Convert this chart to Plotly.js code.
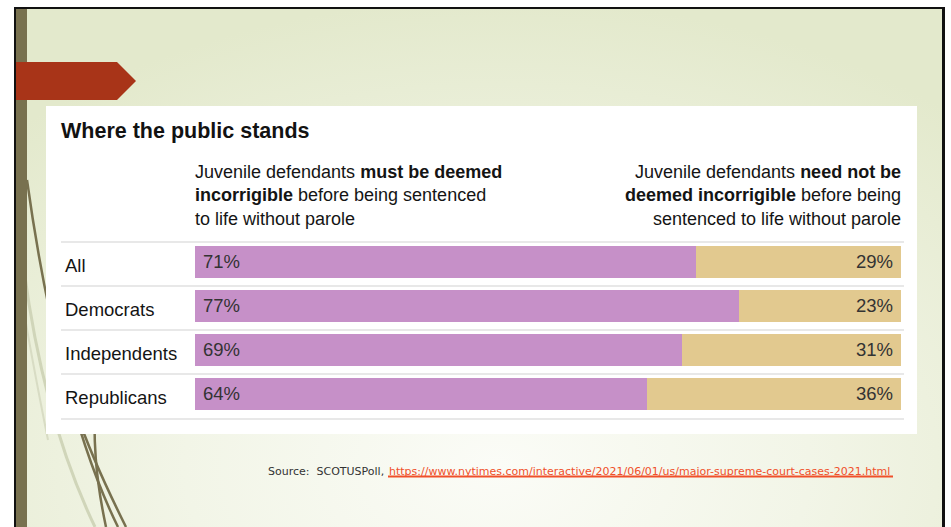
<!DOCTYPE html>
<html>
<head>
<meta charset="utf-8">
<script src="https://cdn.plot.ly/plotly-3.0.1.min.js"></script>
<style>
  html, body { margin:0; padding:0; background:#ffffff; }
  #wrap { position:relative; width:951px; height:527px; overflow:hidden; background:#ffffff; }
  #slidebg { position:absolute; left:16px; top:9px; width:926px; height:518px;
    background: radial-gradient(ellipse 75% 90% at 52% 88%, #fbfcf7 0%, #f2f5e7 45%, #e3e9cc 100%); }
  #chart { position:absolute; left:0; top:0; width:951px; height:527px; }
</style>
</head>
<body>
<div id="wrap">
  <div id="slidebg"></div>
  <div id="chart"></div>
</div>
<script>
// ---- data ----
const categories = ['All', 'Democrats', 'Independents', 'Republicans'];
const mustBeDeemed = [71, 77, 69, 64];
const needNotBeDeemed = [29, 23, 31, 36];
const chartTitle = 'Where the public stands';
const headerLeft = 'Juvenile defendants <b>must be deemed</b><br><b>incorrigible</b> before being sentenced<br>to life without parole';
const headerRight = 'Juvenile defendants <b>need not be</b><br><b>deemed incorrigible</b> before being<br>sentenced to life without parole';
const sourceLabel = 'Source:  SCOTUSPoll,';
const sourceUrl = 'https://www.nytimes.com/interactive/2021/06/01/us/major-supreme-court-cases-2021.html';

// ---- geometry helpers (pixel -> paper) ----
const W = 951, H = 527;
const px = x => x / W;
const py = y => 1 - y / H;

const FONT = '"Liberation Sans", Arial, sans-serif';
const PINK = '#c690c8';
const TAN = '#e2c98f';

const traces = [
  { type:'bar', orientation:'h', y:categories, x:mustBeDeemed, name:'Must be deemed incorrigible',
    marker:{color:PINK, line:{width:0}}, width:0.71, hoverinfo:'x+y' },
  { type:'bar', orientation:'h', y:categories, x:needNotBeDeemed, name:'Need not be deemed incorrigible',
    marker:{color:TAN, line:{width:0}}, width:0.71, hoverinfo:'x+y' }
];

const shapes = [];
// decorative curves (lower left)
function pathPx(pts){
  const p = pts.map(([x,y]) => px(x).toFixed(5) + ',' + py(y).toFixed(5));
  return 'M' + p[0] + ' C' + p[1] + ' ' + p[2] + ' ' + p[3];
}
const curves = [
  {pts:[[24,270],[36,360],[58,450],[95,527]], c:'#d0d5b9', w:3},
  {pts:[[22,300],[32,360],[40,400],[48,440]], c:'#d8dcc4', w:2},
  {pts:[[27,180],[45,310],[75,440],[118,527]], c:'#78714f', w:2.5},
  {pts:[[50,300],[60,380],[85,445],[126,527]], c:'#78714f', w:2.5},
  {pts:[[96,380],[92,440],[96,480],[106,527]], c:'#78714f', w:2.5}
];
curves.forEach(cv => shapes.push({type:'path', xref:'paper', yref:'paper', path:pathPx(cv.pts), line:{color:cv.c, width:cv.w}, layer:'below'}));
// slide frame pieces
shapes.push({type:'rect', xref:'paper', yref:'paper', x0:px(14), x1:px(16), y0:py(527), y1:py(7), fillcolor:'#111', line:{width:0}, layer:'below'});
shapes.push({type:'rect', xref:'paper', yref:'paper', x0:px(14), x1:px(945), y0:py(9), y1:py(7), fillcolor:'#111', line:{width:0}, layer:'below'});
shapes.push({type:'rect', xref:'paper', yref:'paper', x0:px(942), x1:px(945), y0:py(527), y1:py(7), fillcolor:'#111', line:{width:0}, layer:'below'});
shapes.push({type:'rect', xref:'paper', yref:'paper', x0:px(16), x1:px(27), y0:py(527), y1:py(9), fillcolor:'#78714f', line:{width:0}, layer:'below'});
// red arrow banner
shapes.push({type:'path', xref:'paper', yref:'paper', fillcolor:'#a83418', line:{width:0}, layer:'below',
  path:'M'+px(16)+','+py(62)+' L'+px(117)+','+py(62)+' L'+px(136)+','+py(81)+' L'+px(117)+','+py(100)+' L'+px(16)+','+py(100)+' Z'});
// white panel
shapes.push({type:'rect', xref:'paper', yref:'paper', x0:px(46), x1:px(917), y0:py(434), y1:py(106), fillcolor:'#ffffff', line:{width:0}, layer:'below'});
// row separators
[242, 286, 330, 374, 419].forEach(yy => shapes.push({type:'line', xref:'paper', yref:'paper', x0:px(61), x1:px(904), y0:py(yy), y1:py(yy), line:{color:'#e8e8e8', width:2}, layer:'below'}));
// source URL underline
shapes.push({type:'line', xref:'paper', yref:'paper', x0:px(388), x1:px(893), y0:py(476.5), y1:py(476.5), line:{color:'#f0502a', width:2}});

const annotations = [];
// headers
annotations.push({xref:'paper', yref:'paper', x:px(193), y:py(196), xanchor:'left', yanchor:'middle', align:'left', showarrow:false,
  text:headerLeft, font:{family:FONT, size:18, color:'#141414'}});
annotations.push({xref:'paper', yref:'paper', x:px(903), y:py(196), xanchor:'right', yanchor:'middle', align:'right', showarrow:false,
  text:headerRight, font:{family:FONT, size:18, color:'#141414'}});
// category labels and value labels
categories.forEach((c, i) => {
  annotations.push({xref:'paper', yref:'y', x:px(63), y:c, yshift:-3, xanchor:'left', yanchor:'middle', showarrow:false,
    text:c, font:{family:FONT, size:18.5, color:'#141414'}});
  annotations.push({xref:'x', yref:'y', x:0, y:c, xshift:6, yshift:1, xanchor:'left', yanchor:'middle', showarrow:false,
    text:mustBeDeemed[i] + '%', font:{family:FONT, size:18.5, color:'#333333'}});
  annotations.push({xref:'x', yref:'y', x:100, y:c, xshift:-6, yshift:1, xanchor:'right', yanchor:'middle', showarrow:false,
    text:needNotBeDeemed[i] + '%', font:{family:FONT, size:18.5, color:'#333333'}});
});
// source
annotations.push({xref:'paper', yref:'paper', x:px(386), y:py(471), xanchor:'right', yanchor:'middle', showarrow:false,
  text:sourceLabel, font:{family:'"DejaVu Sans", sans-serif', size:11, color:'#333333'}});
annotations.push({xref:'paper', yref:'paper', x:px(387), y:py(471), xanchor:'left', yanchor:'middle', showarrow:false,
  text:sourceUrl, font:{family:'"DejaVu Sans", sans-serif', size:11, color:'#f0502a'}});

const layout = {
  width:W, height:H,
  margin:{l:0, r:0, t:0, b:0, pad:0},
  paper_bgcolor:'rgba(0,0,0,0)', plot_bgcolor:'rgba(0,0,0,0)',
  showlegend:false,
  barmode:'stack',
  title:{text:'<b>' + chartTitle + '</b>', x:px(61), xanchor:'left', y:py(130), yanchor:'middle',
    font:{family:FONT, size:21.5, color:'#121212'}},
  xaxis:{domain:[px(195), px(901)], range:[0,100], visible:false, fixedrange:true},
  yaxis:{domain:[py(416), py(240)], type:'category', categoryorder:'array', categoryarray:categories,
    autorange:'reversed', visible:false, fixedrange:true},
  shapes:shapes,
  annotations:annotations,
  bargap:0
};

Plotly.newPlot('chart', traces, layout, {displayModeBar:false, staticPlot:true});
</script>
</body>
</html>
